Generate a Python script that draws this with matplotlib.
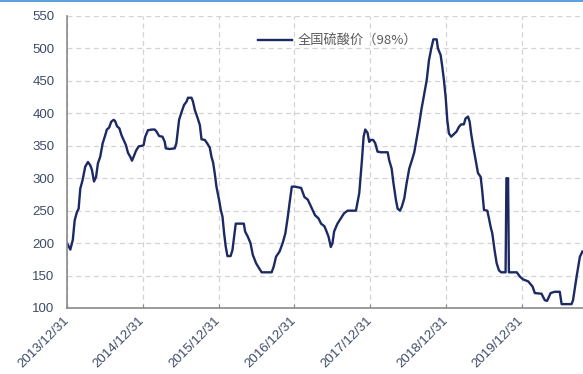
import pandas as pd
import matplotlib.pyplot as plt
import matplotlib.dates as mdates
from matplotlib.lines import Line2D

# 全国硫酸价（98%），元/吨
dates = [
    "2013-12-31", "2014-01-16", "2014-01-28", "2014-02-06", "2014-02-17", "2014-02-25",
    "2014-03-05", "2014-03-16", "2014-03-29", "2014-04-11", "2014-04-22", "2014-04-30",
    "2014-05-10", "2014-05-20", "2014-05-29", "2014-06-09", "2014-06-21", "2014-07-03",
    "2014-07-11", "2014-07-22", "2014-08-01", "2014-08-13", "2014-08-20", "2014-08-29",
    "2014-09-09", "2014-09-20", "2014-09-30", "2014-10-11", "2014-10-21", "2014-11-01",
    "2014-11-09", "2014-11-17", "2014-11-28", "2014-12-11", "2014-12-27", "2015-01-04",
    "2015-01-12", "2015-01-25", "2015-02-13", "2015-02-27", "2015-03-07", "2015-03-20",
    "2015-04-05", "2015-04-16", "2015-04-21", "2015-05-10", "2015-06-03", "2015-06-11",
    "2015-06-24", "2015-07-06", "2015-07-18", "2015-07-30", "2015-08-06", "2015-08-23",
    "2015-08-30", "2015-09-08", "2015-09-19", "2015-10-02", "2015-10-10", "2015-10-26",
    "2015-11-06", "2015-11-19", "2015-11-27", "2015-12-05", "2015-12-13", "2015-12-21",
    "2016-01-03", "2016-01-11", "2016-01-19", "2016-01-27", "2016-02-04", "2016-02-12",
    "2016-02-27", "2016-03-07", "2016-03-15", "2016-03-23", "2016-05-01", "2016-05-07",
    "2016-05-20", "2016-06-02", "2016-06-13", "2016-06-29", "2016-07-10", "2016-07-26",
    "2016-09-12", "2016-09-22", "2016-10-03", "2016-10-20", "2016-11-04", "2016-11-17",
    "2016-11-29", "2016-12-07", "2016-12-18", "2017-01-03", "2017-02-01", "2017-02-17",
    "2017-03-05", "2017-03-21", "2017-04-09", "2017-04-26", "2017-05-08", "2017-05-24",
    "2017-06-01", "2017-06-13", "2017-06-24", "2017-07-02", "2017-07-10", "2017-07-26",
    "2017-08-11", "2017-08-27", "2017-09-13", "2017-10-23", "2017-11-08", "2017-11-21",
    "2017-11-29", "2017-12-07", "2017-12-18", "2017-12-26", "2018-01-03", "2018-01-14",
    "2018-01-24", "2018-02-04", "2018-02-20", "2018-03-25", "2018-04-01", "2018-04-13",
    "2018-04-22", "2018-05-04", "2018-05-12", "2018-05-23", "2018-06-01", "2018-06-13",
    "2018-06-24", "2018-07-07", "2018-07-20", "2018-07-31", "2018-08-10", "2018-08-23",
    "2018-09-03", "2018-09-16", "2018-09-29", "2018-10-10", "2018-10-21", "2018-10-31",
    "2018-11-16", "2018-11-22", "2018-12-05", "2018-12-13", "2018-12-21", "2018-12-29",
    "2019-01-06", "2019-01-14", "2019-01-25", "2019-02-07", "2019-02-20", "2019-03-03",
    "2019-03-14", "2019-03-27", "2019-04-04", "2019-04-16", "2019-04-24", "2019-05-01",
    "2019-05-11", "2019-05-23", "2019-06-03", "2019-06-16", "2019-06-23", "2019-07-02",
    "2019-07-18", "2019-07-26", "2019-08-03", "2019-08-11", "2019-08-22", "2019-09-01",
    "2019-09-12", "2019-09-23", "2019-10-14", "2019-10-18", "2019-10-26", "2019-10-30",
    "2019-12-07", "2019-12-23", "2020-01-07", "2020-01-31", "2020-02-21", "2020-03-03",
    "2020-04-04", "2020-04-20", "2020-05-01", "2020-05-18", "2020-06-07", "2020-07-01",
    "2020-07-10", "2020-08-27", "2020-09-03", "2020-09-20", "2020-10-06", "2020-10-18",
]
prices = [
    200, 190, 205, 235, 248, 253,
    284, 297, 318, 325, 320, 313,
    295, 302, 323, 333, 354, 366,
    375, 378, 387, 390, 388, 380,
    377, 366, 359, 351, 339, 333,
    327, 333, 342, 349, 350, 351,
    364, 374, 375, 375, 372, 365,
    364, 356, 346, 345, 346, 354,
    390, 402, 413, 418, 424, 424,
    418, 405, 395, 382, 360, 359,
    354, 347, 333, 324, 307, 287,
    266, 251, 241, 215, 194, 180,
    180, 189, 210, 230, 230, 218,
    210, 200, 182, 169, 163, 155,
    155, 164, 179, 187, 200, 215,
    241, 261, 287, 287, 285, 271,
    267, 256, 243, 238, 230, 226,
    220, 210, 194, 200, 218, 230,
    238, 246, 250, 250, 277, 328,
    364, 375, 370, 356, 359, 359,
    354, 341, 340, 340, 328, 315,
    292, 266, 253, 250, 256, 269,
    292, 315, 328, 340, 358, 382,
    405, 428, 451, 482, 500, 514,
    514, 500, 490, 472, 451, 426,
    390, 369, 364, 368, 372, 379,
    383, 383, 392, 395, 387, 369,
    349, 328, 308, 302, 282, 251,
    250, 238, 225, 215, 189, 169,
    158, 155, 155, 300, 300, 155,
    155, 148, 144, 141, 133, 123,
    122, 112, 111, 123, 125, 125,
    106, 106, 112, 148, 179, 187,
]
series_label = "全国硫酸价（98%）"
y_ticks = [100, 150, 200, 250, 300, 350, 400, 450, 500, 550]
x_ticks = ["2013-12-31", "2014-12-31", "2015-12-31", "2016-12-31",
           "2017-12-31", "2018-12-31", "2019-12-31"]

df = pd.DataFrame({"DATE": pd.to_datetime(dates), "PRICE": prices})

plt.rcParams["font.family"] = ["Liberation Sans", "Noto Sans CJK SC", "DejaVu Sans"]

fig = plt.figure(figsize=(5.83, 3.74), dpi=100)
ax = fig.add_axes([67 / 583, 1 - 308 / 374, 1 - 67 / 583, (308 - 16) / 374])

ax.plot(df["DATE"], df["PRICE"], color="#1b2a63", lw=1.7, label=series_label,
        solid_joinstyle="round")

ax.set_ylim(100, 550)
ax.set_yticks(y_ticks)
ax.set_xlim(pd.Timestamp("2013-12-31"), pd.Timestamp("2020-10-21"))
ax.set_xticks(pd.to_datetime(x_ticks))
ax.xaxis.set_major_formatter(mdates.DateFormatter("%Y/%m/%d"))

ax.grid(True, color="#d3d3d3", lw=0.9, ls=(0, (4, 3)))
ax.set_axisbelow(True)

for side in ["top", "right"]:
    ax.spines[side].set_visible(False)
for side in ["left", "bottom"]:
    ax.spines[side].set_color("#8a8a8a")
    ax.spines[side].set_linewidth(1.2)

ax.tick_params(axis="y", length=0, pad=9, labelsize=9.5, labelcolor="#3d4a66")
ax.tick_params(axis="x", direction="in", length=3, color="#8a8a8a", pad=8,
               labelsize=9.5, labelcolor="#3d4a66")
for lbl in ax.get_xticklabels():
    lbl.set_rotation(45)
    lbl.set_ha("right")
    lbl.set_va("center")
    lbl.set_rotation_mode("anchor")

leg = ax.legend(loc="center left", bbox_to_anchor=(0.36, 0.915), frameon=False,
                handlelength=2.6, handletextpad=0.4, borderaxespad=0,
                prop={"family": ["Noto Sans CJK SC", "DejaVu Sans"], "size": 9.5})
for t in leg.get_texts():
    t.set_color("#5a5a5a")

# thin blue rule across the top edge
fig.add_artist(Line2D([0, 1], [1 - 0.8 / 374, 1 - 0.8 / 374], transform=fig.transFigure,
                      color="#3d8fd4", lw=1.2))

fig.savefig("out.png", dpi=100)
